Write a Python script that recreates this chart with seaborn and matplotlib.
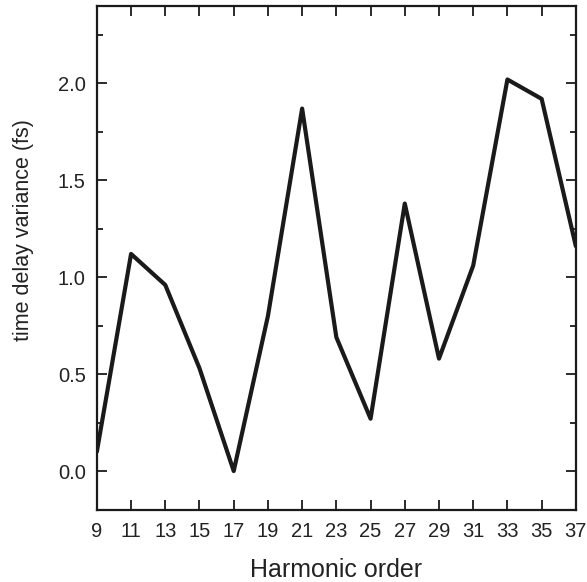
import pandas as pd
import matplotlib.pyplot as plt
from matplotlib.ticker import MultipleLocator
import seaborn as sns

# harmonic orders and the variance
harmonic = [9, 11, 13, 15, 17, 19, 21, 23, 25, 27, 29, 31, 33, 35, 37]
variance = [0.10, 1.12, 0.96, 0.53, 0.00, 0.80, 1.87, 0.69, 0.27, 1.38, 0.58, 1.06, 2.02, 1.92, 1.16]

df = pd.DataFrame({'Harmonic order': harmonic, 'time delay variance (fs)': variance})

sns.set_style('ticks')
plt.rcParams['font.family'] = ['Liberation Sans', 'DejaVu Sans']

fig = plt.figure(figsize=(5.87, 5.82), dpi=100)
ax = fig.add_axes([0.165, 0.124, 0.816, 0.866])
sns.lineplot(data=df, x='Harmonic order', y='time delay variance (fs)', color='#1a1a1a', linewidth=3, ax=ax)

ax.set_xlim(9, 37)
ax.set_ylim(-0.2, 2.4)
ax.set_xticks(harmonic)
ax.yaxis.set_major_locator(MultipleLocator(0.5))
ax.yaxis.set_minor_locator(MultipleLocator(0.25))
ax.yaxis.set_major_formatter(plt.FormatStrFormatter('%.1f'))

ax.tick_params(which='both', direction='in', top=True, right=True, width=1.3, colors='#1a1a1a',
               labelsize=14.5, labelcolor='#222222')
ax.tick_params(axis='x', pad=9)
ax.tick_params(axis='y', pad=8)
ax.tick_params(which='major', length=7)
ax.tick_params(which='minor', length=4)
for s in ax.spines.values():
    s.set_linewidth(1.6)
    s.set_color('#1a1a1a')

ax.set_xlabel('Harmonic order', fontsize=18, labelpad=12, color='#222222')
ax.set_ylabel('time delay variance (fs)', fontsize=15.5, labelpad=17, color='#222222')
ax.yaxis.label.set_y(0.556)

fig.savefig('out.png', dpi=100)
